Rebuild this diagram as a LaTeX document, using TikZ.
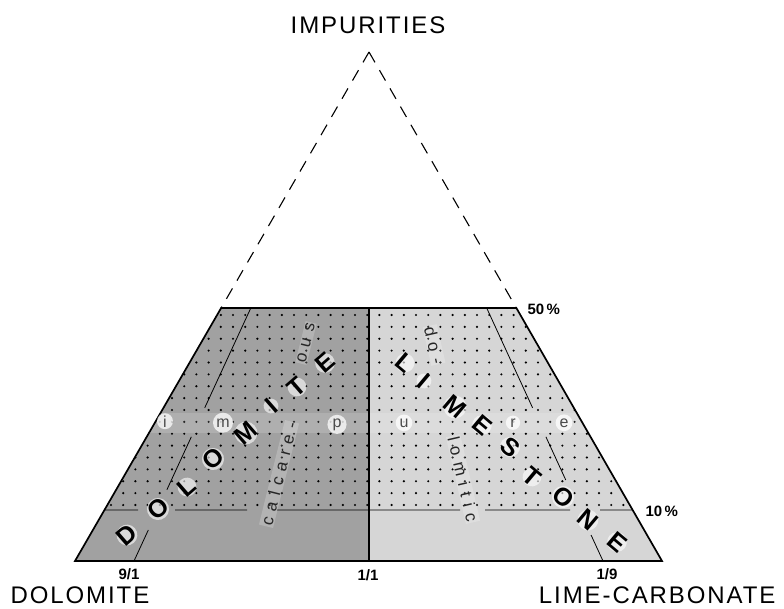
\documentclass[tikz,border=0pt]{standalone}
\usepackage{fontspec}
\setmainfont{Liberation Sans}
\usetikzlibrary{calc}
\definecolor{dolgray}{gray}{0.63}
\definecolor{limgray}{gray}{0.84}

\begin{document}
\begin{tikzpicture}[x=1pt, y=-1pt,
  rim/.style={line width=1.7pt, line join=miter},
  tieline/.style={line width=0.8pt},
  dashrim/.style={line width=1.1pt, dash pattern=on 12pt off 9pt},
  vertexlabel/.style={font=\fontsize{24}{24}\selectfont\addfontfeature{LetterSpace=8}},
  ratiolabel/.style={font=\bfseries\fontsize{15}{15}\selectfont},
  bigletter/.style={font=\bfseries\fontsize{25}{25}\selectfont, circle, inner sep=-1.5pt, fill=white, fill opacity=0.6, text opacity=1},
  smallletter/.style={font=\fontsize{16}{16}\selectfont, text=black!70, circle, inner sep=1.5pt, fill=white, fill opacity=0.75, text opacity=1},
  wordlabel/.style={font=\fontsize{17}{17}\selectfont\addfontfeature{LetterSpace=38}, text=black!85, inner sep=1pt, fill=white, fill opacity=0.2, text opacity=1}
]
  \useasboundingbox (0,0) rectangle (784,609);
  \coordinate (apex) at (369,52);
  \coordinate (bl) at (75,561);
  \coordinate (br) at (662,561);
  \coordinate (tl) at ($(bl)!0.497!(apex)$);
  \coordinate (tr) at ($(br)!0.497!(apex)$);
  \coordinate (ml) at ($(bl)!0.1!(apex)$);
  \coordinate (mr) at ($(br)!0.1!(apex)$);
  \coordinate (tc) at (369,308);
  \coordinate (bc) at (369,561);
  \coordinate (b91) at (134,561);
  \coordinate (b19) at (603,561);

  \fill[dolgray] (bl) -- (tl) -- (tc) -- (bc) -- cycle;
  \fill[limgray] (bc) -- (tc) -- (tr) -- (br) -- cycle;
  \begin{scope}
    \clip (ml) -- (tl) -- (tr) -- (mr) -- cycle;
    \foreach \r in {0,...,16}
      \foreach \c in {0,...,52}
        \fill (1.2+12.2*\c, 315+11.875*\r) circle (1.2);
    \fill[white, opacity=0.15] (100,413) rectangle (640,433);
  \end{scope}

  \draw[rim] (bl) -- (tl) -- (tr) -- (br) -- cycle;
  \draw[dashrim] (apex) -- (tl);
  \draw[dashrim] (apex) -- (tr);
  \draw[rim] (tc) -- (bc);
  \draw[tieline] (ml) -- (138,510) (175,510) -- (247,510) (277,510) -- (460,510)
    (485,510) -- (570,510) (600,510) -- (mr);
  \draw[tieline] (b91) -- ($(b91)!0.061!(apex)$) ($(b91)!0.14!(apex)$) -- ($(b91)!0.244!(apex)$)
    ($(b91)!0.301!(apex)$) -- ($(b91)!0.497!(apex)$);
  \draw[tieline] (b19) -- ($(b19)!0.051!(apex)$) ($(b19)!0.159!(apex)$) -- ($(b19)!0.244!(apex)$)
    ($(b19)!0.301!(apex)$) -- ($(b19)!0.497!(apex)$);

  \node[vertexlabel] (imp) at (368,25) {IMPURITIES};
  \node[vertexlabel, anchor=base west] (dolo) at (7,603) {DOLOMITE};
  \node[vertexlabel, anchor=base east] (lime) at (779,603) {LIME-CARBONATE};
  \node[ratiolabel, anchor=west] (p50) at (524,309) {50\,\%};
  \node[ratiolabel, anchor=west] (p10) at (642,511) {10\,\%};
  \node[ratiolabel] (r91) at (129,574) {9/1};
  \node[ratiolabel] (r11) at (368,575) {1/1};
  \node[ratiolabel] (r19) at (607,574) {1/9};

  \foreach \ch/\x/\y [count=\k] in {D/127/535, O/158/509, L/187/487, O/213/459,
      M/246/433, I/271/406, T/297/387, E/325/363}
    \node[bigletter, rotate=41] (dl\k) at (\x,\y) {\ch};
  \foreach \ch/\x/\y [count=\k] in {L/405/363, I/424/381, M/455/407, E/482/425,
      S/510/447, T/532/477, O/563/497, N/588/520, E/617/542}
    \node[bigletter, rotate=-40] (ls\k) at (\x,\y) {\ch};
  \foreach \ch/\x [count=\k] in {i/165, m/223, p/337, u/404, r/513, e/564}
    \node[smallletter, anchor=base] (ip\k) at (\x,427) {\ch};

  \node[wordlabel, rotate=76] (calc1) at (279,474) {calcare-};
  \node[wordlabel, rotate=76] (calc2) at (306,343) {ous};
  \node[wordlabel, rotate=-77] (dolo1) at (434,345) {do-};
  \node[wordlabel, rotate=-77] (dolo2) at (463,479) {lomitic};
\end{tikzpicture}
\end{document}
